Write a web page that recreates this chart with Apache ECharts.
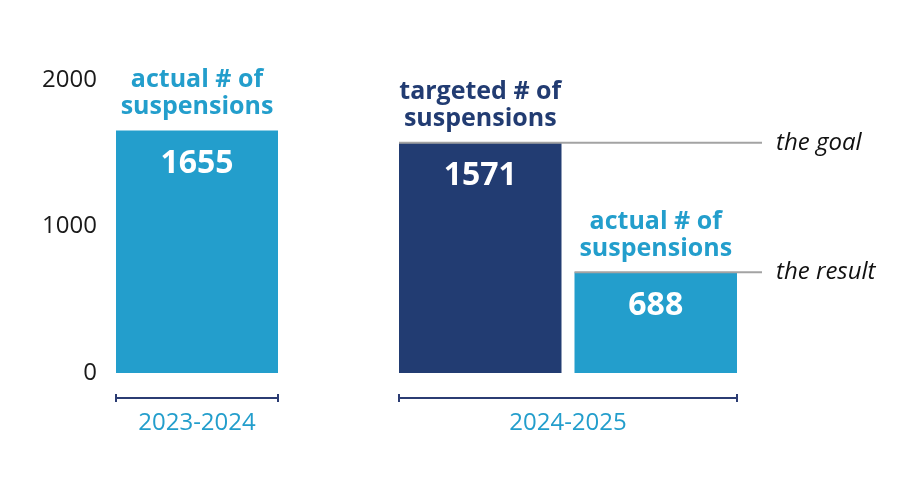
<!DOCTYPE html>
<html>
<head>
<meta charset="utf-8">
<script src="https://cdn.jsdelivr.net/npm/echarts@6/dist/echarts.min.js"></script>
<style>html,body{margin:0;padding:0;background:#fff}#c{width:900px;height:500px}</style>
</head>
<body>
<div id="c"></div>
<script>
// ---- data ----
const periods = ['2023-2024', '2024-2025'];
const actualPrev = [1655];
const targeted = [1571];
const actualCur = [688];
const yTicks = [0, 1000, 2000];
const headActual = ['actual # of', 'suspensions'];
const headTarget = ['targeted # of', 'suspensions'];
const refLabels = ['the goal', 'the result'];

const LIGHT = '#239ECC';
const NAVY = '#223C72';
const FONT = '"Open Sans", sans-serif';

function barLabel(head, headColor) {
  return {
    show: true,
    position: 'insideTop',
    distance: 0,
    offset: [0, -64],
    formatter: p => `{h|${head[0]}}\n{h|${head[1]}}\n{v|${p.value}}`,
    rich: {
      h: { fontFamily: FONT, fontWeight: 'bold', fontSize: 25, lineHeight: 27, color: headColor, verticalAlign: 'middle' },
      v: { fontFamily: FONT, fontWeight: 'bold', fontSize: 32, lineHeight: 87, color: '#fff', verticalAlign: 'middle' }
    }
  };
}

function xAxisPair(gridIndex, cat) {
  return [{
    type: 'category', gridIndex, data: [cat], offset: 25, position: 'bottom',
    axisLine: { show: true, onZero: false, lineStyle: { color: '#2B3C73', width: 2 } },
    axisTick: { show: true, length: 4, lineStyle: { color: '#2B3C73', width: 2 } },
    axisLabel: { show: true, color: LIGHT, fontFamily: FONT, fontSize: 24, margin: 13 }
  }, {
    type: 'category', gridIndex, data: [cat], offset: 25, position: 'bottom',
    axisLine: { show: false, onZero: false },
    axisTick: { show: true, inside: true, length: 4, lineStyle: { color: '#2B3C73', width: 2 } },
    axisLabel: { show: false }
  }];
}

const chart = echarts.init(document.getElementById('c'));
const option = {
  animation: false,
  backgroundColor: '#fff',
  grid: [
    { left: 116, width: 162, top: 80, bottom: 127 },
    { left: 399, width: 338, top: 80, bottom: 127 }
  ],
  xAxis: [...xAxisPair(0, periods[0]), ...xAxisPair(1, periods[1])],
  yAxis: [
    {
      type: 'value', gridIndex: 0, min: yTicks[0], max: yTicks[yTicks.length - 1], interval: yTicks[1] - yTicks[0],
      axisLine: { show: false }, axisTick: { show: false }, splitLine: { show: false },
      axisLabel: { color: '#1a1a1a', fontFamily: FONT, fontSize: 24, margin: 19, padding: [0, 0, 8, 0], formatter: v => String(v) }
    },
    {
      type: 'value', gridIndex: 1, min: yTicks[0], max: yTicks[yTicks.length - 1], interval: yTicks[1] - yTicks[0],
      axisLine: { show: false }, axisTick: { show: false }, splitLine: { show: false }, axisLabel: { show: false }
    }
  ],
  series: [
    {
      type: 'bar', xAxisIndex: 0, yAxisIndex: 0, data: actualPrev, barCategoryGap: 0,
      itemStyle: { color: LIGHT }, label: barLabel(headActual, LIGHT)
    },
    {
      type: 'bar', xAxisIndex: 2, yAxisIndex: 1, data: targeted, barCategoryGap: 0, barGap: '8%',
      itemStyle: { color: NAVY }, label: barLabel(headTarget, NAVY)
    },
    {
      type: 'bar', xAxisIndex: 2, yAxisIndex: 1, data: actualCur, barCategoryGap: 0, barGap: '8%',
      itemStyle: { color: LIGHT }, label: barLabel(headActual, LIGHT)
    }
  ]
};
chart.setOption(option);

// reference lines from the actual bar layouts
const LINE_END = 762, TEXT_X = 776;
const els = [];
[[1, refLabels[0]], [2, refLabels[1]]].forEach(([si, txt]) => {
  const lay = chart.getModel().getSeriesByIndex(si).getData().getItemLayout(0);
  const top = Math.min(lay.y, lay.y + lay.height);
  const left = Math.min(lay.x, lay.x + lay.width);
  els.push({
    type: 'line', z: 10,
    shape: { x1: left, y1: top, x2: LINE_END, y2: top },
    style: { stroke: '#A3A3A3', lineWidth: 2 }
  });
  els.push({
    type: 'text', z: 10, x: TEXT_X, y: top,
    style: { text: txt, fill: '#111', fontFamily: FONT, fontStyle: 'italic', fontSize: 24, verticalAlign: 'middle', align: 'left' }
  });
});
chart.setOption({ graphic: els });
</script>
</body>
</html>
